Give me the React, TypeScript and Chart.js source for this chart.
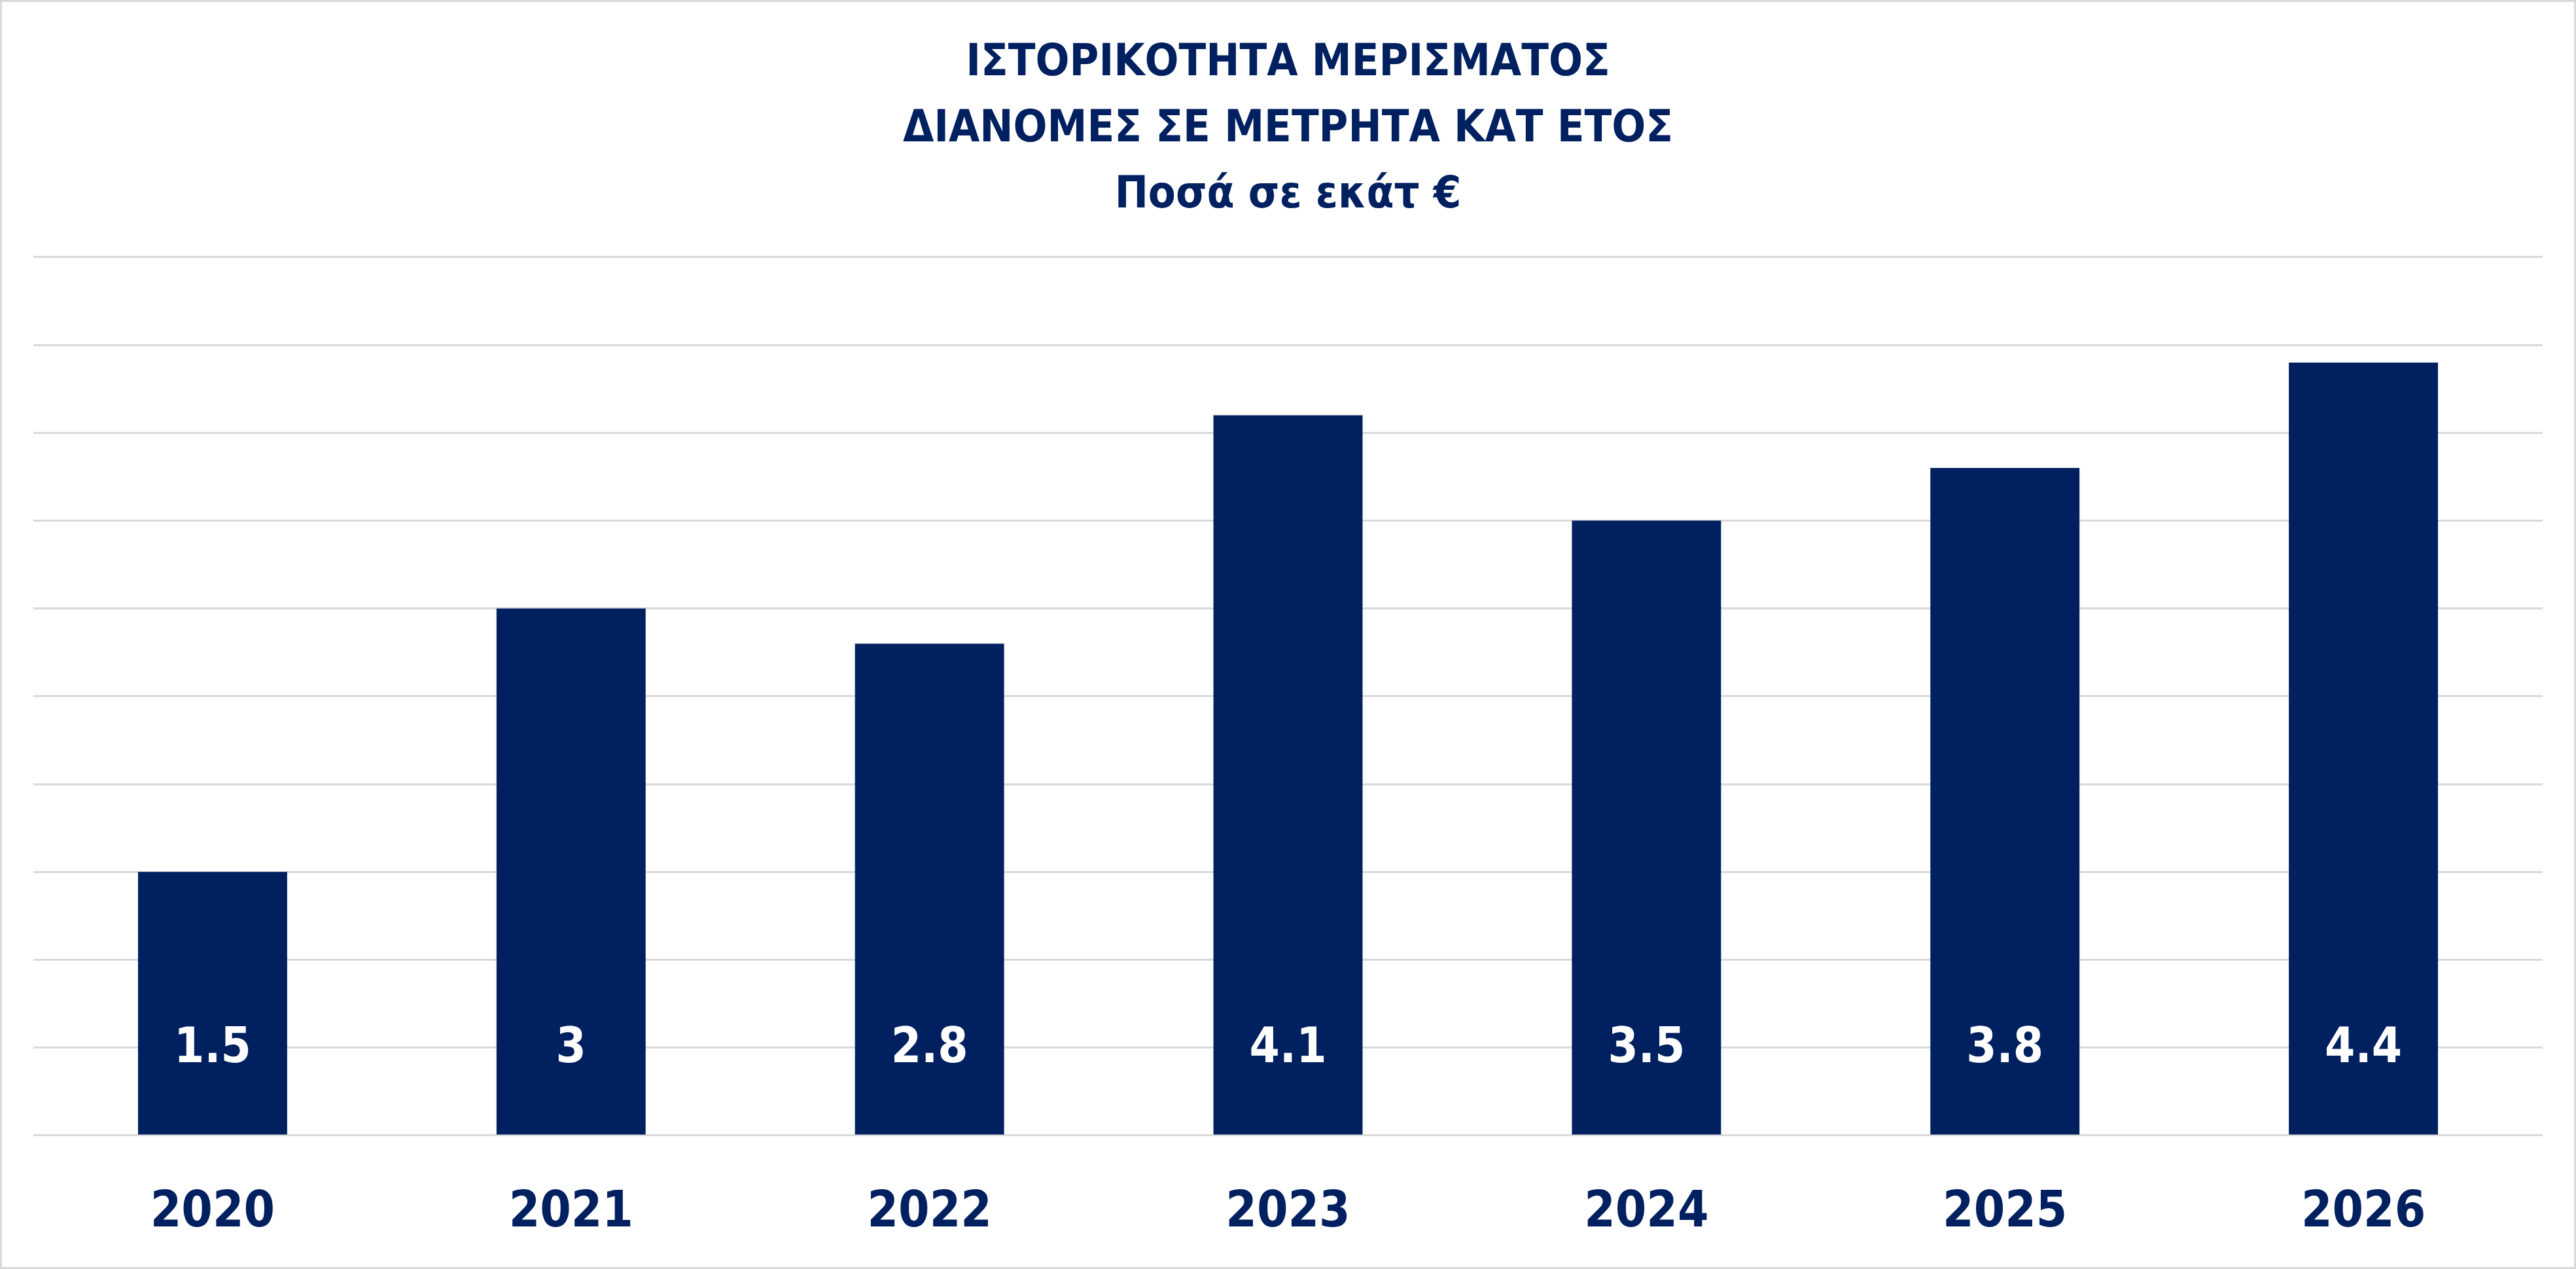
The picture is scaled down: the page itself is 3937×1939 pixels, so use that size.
import { useEffect, useRef } from 'react';
import { Chart, registerables } from 'chart.js';
import type { Plugin } from 'chart.js';

Chart.register(...registerables);

const years = ['2020', '2021', '2022', '2023', '2024', '2025', '2026'];
const payouts = [1.5, 3, 2.8, 4.1, 3.5, 3.8, 4.4];
const titleLines = ['ΙΣΤΟΡΙΚΟΤΗΤΑ ΜΕΡΙΣΜΑΤΟΣ', 'ΔΙΑΝΟΜΕΣ ΣΕ ΜΕΤΡΗΤΑ ΚΑΤ ΕΤΟΣ', 'Ποσά σε εκάτ €'];

const NAVY = '#002060';
const GRID = '#d9d9d9';
const FONT = '"DejaVu Sans Condensed", "Open Sans", sans-serif';

// white value labels near the foot of each bar
const barLabels: Plugin<'bar'> = {
  id: 'barLabels',
  afterDatasetsDraw(chart) {
    const { ctx } = chart;
    const meta = chart.getDatasetMeta(0);
    const base = chart.scales.y.getPixelForValue(0);
    ctx.save();
    ctx.fillStyle = '#ffffff';
    ctx.font = `bold 74px ${FONT}`;
    ctx.textAlign = 'center';
    ctx.textBaseline = 'middle';
    meta.data.forEach((bar, i) => {
      ctx.fillText(String(payouts[i]), bar.x, base - 131);
    });
    ctx.restore();
  },
};

export default function App() {
  const chartRef = useRef<HTMLCanvasElement>(null);
  const chartInstance = useRef<Chart | null>(null);

  useEffect(() => {
    document.body.style.margin = '0';
    if (!chartRef.current) return;
    if (chartInstance.current) chartInstance.current.destroy();
    const ctx = chartRef.current.getContext('2d');
    if (!ctx) return;

    chartInstance.current = new Chart(ctx, {
      type: 'bar',
      data: {
        labels: years,
        datasets: [{
          data: payouts,
          backgroundColor: NAVY,
          categoryPercentage: 1,
          barPercentage: 0.416,
        }],
      },
      options: {
        animation: false,
        responsive: true,
        maintainAspectRatio: false,
        layout: { padding: { left: 48, right: 48, top: 0, bottom: -38 } },
        plugins: {
          legend: { display: false },
          tooltip: { enabled: false },
          title: {
            display: true,
            text: titleLines,
            color: NAVY,
            font: { family: FONT, size: 68, weight: 'bold', lineHeight: 1.485 },
            padding: { top: 44, bottom: 43 },
          },
        },
        scales: {
          x: {
            grid: { display: false, drawTicks: false },
            border: { display: false },
            ticks: {
              color: NAVY,
              padding: 69,
              font: { family: FONT, size: 76, weight: 'bold', lineHeight: 1.33 },
            },
          },
          y: {
            min: 0,
            max: 5,
            grid: { color: GRID, lineWidth: 3, drawTicks: false },
            border: { display: false },
            ticks: { display: false, stepSize: 0.5 },
          },
        },
      },
      plugins: [barLabels],
    });

    return () => {
      if (chartInstance.current) {
        chartInstance.current.destroy();
        chartInstance.current = null;
      }
    };
  }, []);

  return (
    <div style={{ width: 3937, height: 1939, boxSizing: 'border-box', border: `3px solid ${GRID}`, background: '#fff' }}>
      <div style={{ position: 'relative', width: '100%', height: '100%' }}>
        <canvas ref={chartRef} />
      </div>
    </div>
  );
}
